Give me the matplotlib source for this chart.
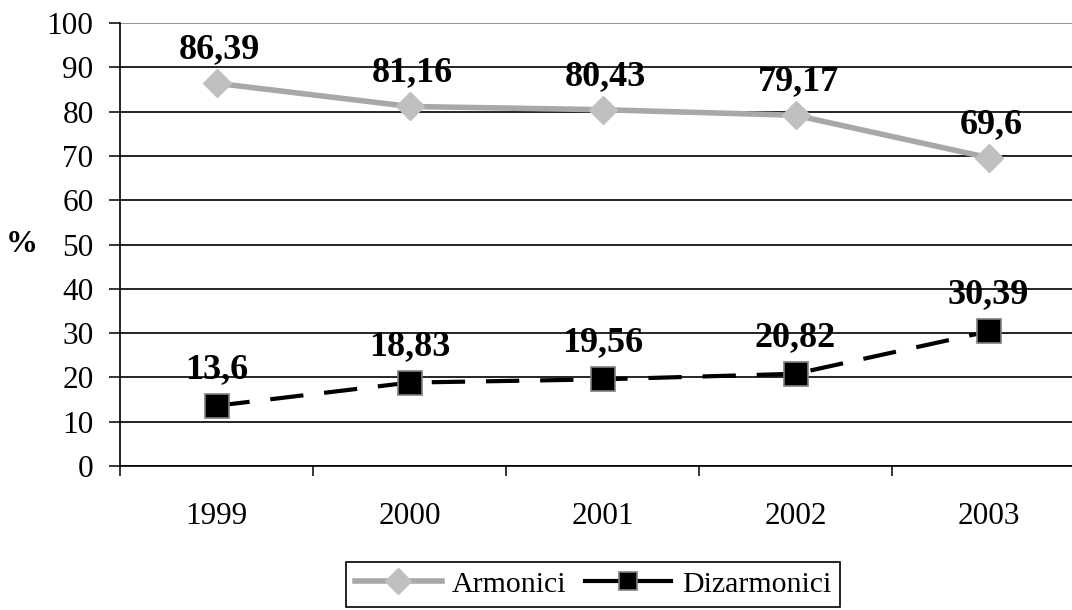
import matplotlib.pyplot as plt
import numpy as np
from matplotlib.lines import Line2D

plt.rcParams['font.family'] = ['Liberation Serif', 'DejaVu Serif']

# data
years = ['1999', '2000', '2001', '2002', '2003']
armonici = [86.39, 81.16, 80.43, 79.17, 69.6]
dizarmonici = [13.6, 18.83, 19.56, 20.82, 30.39]
armonici_labels = ['86,39', '81,16', '80,43', '79,17', '69,6']
dizarmonici_labels = ['13,6', '18,83', '19,56', '20,82', '30,39']

fig = plt.figure(figsize=(10.72, 6.10), dpi=100)
# axes runs past the right edge like in the original picture
ax = fig.add_axes([120 / 1072, 1 - 466 / 610, 965 / 1072, 443 / 610])

x = np.arange(len(years))

ax.plot(x, armonici, color='#a8a8a8', lw=4.0, marker='D', ms=14,
        mfc='#c0c0c0', mec='#c0c0c0', zorder=3)
ax.plot(x, dizarmonici, color='black', lw=3.0, dashes=(8, 5), marker='s', ms=17,
        mfc='black', mec='#808080', mew=1.2, zorder=3)

for xi, v, lab in zip(x, armonici, armonici_labels):
    ax.annotate(lab, (xi, v), xytext=(2, 18), textcoords='offset points',
                ha='center', va='baseline', fontsize=26, fontweight='bold')
for xi, v, lab in zip(x, dizarmonici, dizarmonici_labels):
    ax.annotate(lab, (xi, v), xytext=(0, 20), textcoords='offset points',
                ha='center', va='baseline', fontsize=26, fontweight='bold')

ax.set_xlim(-0.5, len(years) - 0.5)
ax.set_ylim(0, 100)
ax.set_yticks(np.arange(0, 101, 10))
ax.set_xticks(x)
ax.set_xticklabels(years)
ax.set_xticks(np.arange(-0.5, len(years), 1), minor=True)

ax.tick_params(axis='y', direction='out', length=8, width=1.1, labelsize=22.5, pad=11)
ax.tick_params(axis='x', which='major', length=0, labelsize=22.5, pad=26)
ax.tick_params(axis='x', which='minor', direction='out', length=7.5, width=1.1)

ax.yaxis.grid(True, color='black', lw=1.2)
ax.get_ygridlines()[-1].set_color('#808080')
ax.set_axisbelow(True)

for s in ['top', 'right']:
    ax.spines[s].set_visible(False)
ax.spines['left'].set_linewidth(1.2)
ax.spines['bottom'].set_linewidth(1.2)

fig.text(22 / 1072, 1 - 245 / 610, '%', fontsize=23, fontweight='bold',
         ha='center', va='center')

handles = [
    Line2D([], [], color='#a8a8a8', lw=4.0, marker='D', ms=13.5,
           mfc='#c0c0c0', mec='#c0c0c0'),
    Line2D([], [], color='black', lw=3.0, marker='s', ms=13,
           mfc='black', mec='#808080', mew=1.2),
]
leg = fig.legend(handles, ['Armonici', 'Dizarmonici'], loc='upper center',
                 bbox_to_anchor=(593 / 1072, 1 - 562 / 610), ncol=2,
                 fontsize=21.5, frameon=True, fancybox=False, framealpha=1,
                 edgecolor='black', handlelength=2.9, handletextpad=0.35,
                 columnspacing=0.6, borderpad=0.3, borderaxespad=0)
leg.get_frame().set_linewidth(1.2)

fig.savefig('out.png', dpi=100)
